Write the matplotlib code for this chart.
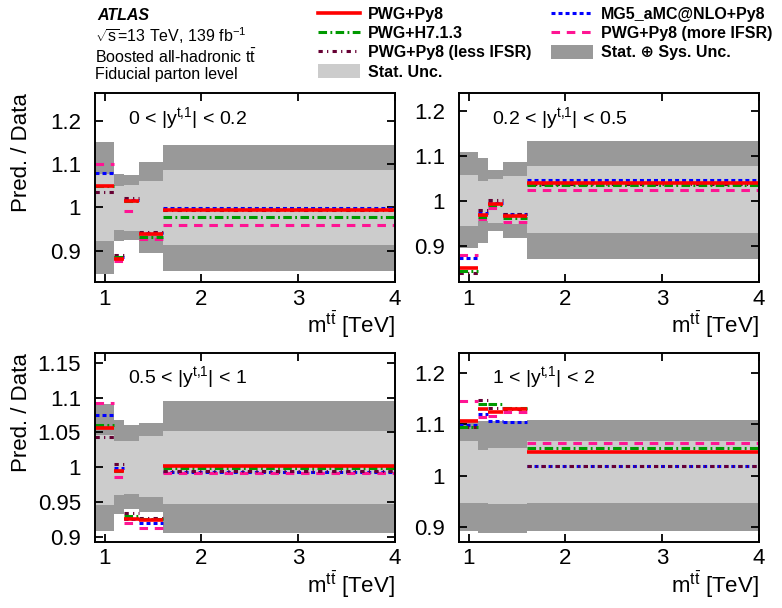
import matplotlib
matplotlib.use("Agg")
import matplotlib.pyplot as plt
from matplotlib.lines import Line2D
from matplotlib.patches import Patch
from matplotlib.ticker import FormatStrFormatter

plt.rcParams['font.family'] = ['Liberation Sans', 'DejaVu Sans']
plt.rcParams['mathtext.fontset'] = 'custom'
plt.rcParams['mathtext.rm'] = 'Liberation Sans'
plt.rcParams['mathtext.it'] = 'Liberation Sans:italic'
plt.rcParams['mathtext.bf'] = 'Liberation Sans:bold'

# m_tt bin edges [TeV]
edges = [0.9, 1.1, 1.2, 1.35, 1.6, 4.0]

panel_labels = [r'0 < |y$^{\rm t{,}1}$| < 0.2', r'0.2 < |y$^{\rm t{,}1}$| < 0.5',
                r'0.5 < |y$^{\rm t{,}1}$| < 1', r'1 < |y$^{\rm t{,}1}$| < 2']

# prediction / data, one list per panel
pwg_py8 = [[1.050, 0.882, 1.014, 0.938, 0.993],
           [0.850, 0.967, 0.993, 0.965, 1.038],
           [1.056, 0.994, 0.925, 0.924, 1.001],
           [1.106, 1.130, 1.125, 1.129, 1.046]]
pwg_h7 = [[1.050, 0.885, 1.016, 0.932, 0.977],
          [0.844, 0.963, 0.990, 0.961, 1.034],
          [1.060, 0.995, 0.930, 0.925, 0.998],
          [1.094, 1.140, 1.140, 1.132, 1.054]]
pwg_less = [[1.035, 0.891, 1.022, 0.943, 0.995],
            [0.839, 0.980, 1.001, 0.971, 1.036],
            [1.043, 1.005, 0.934, 0.927, 0.994],
            [1.095, 1.147, 1.132, 1.130, 1.019]]
mg5 = [[1.079, 0.886, 1.017, 0.940, 0.998],
       [0.873, 0.973, 0.995, 0.971, 1.045],
       [1.075, 0.998, 0.926, 0.919, 0.993],
       [1.098, 1.120, 1.107, 1.105, 1.019]]
pwg_more = [[1.100, 0.877, 0.991, 0.927, 0.960],
            [0.880, 0.958, 0.984, 0.953, 1.024],
            [1.092, 0.986, 0.919, 0.912, 0.991],
            [1.145, 1.115, 1.116, 1.125, 1.063]]

stat_up = [[1.076, 1.050, 1.052, 1.060, 1.087],
           [1.056, 1.044, 1.049, 1.054, 1.076],
           [1.046, 1.038, 1.038, 1.044, 1.052],
           [1.067, 1.050, 1.054, 1.054, 1.067]]
stat_down = [[0.923, 0.948, 0.945, 0.938, 0.913],
             [0.943, 0.954, 0.950, 0.947, 0.928],
             [0.946, 0.960, 0.962, 0.957, 0.947],
             [0.946, 0.947, 0.945, 0.945, 0.946]]
tot_up = [[1.152, 1.077, 1.074, 1.105, 1.145],
          [1.108, 1.095, 1.069, 1.086, 1.132],
          [1.090, 1.067, 1.060, 1.063, 1.095],
          [1.106, 1.107, 1.107, 1.107, 1.108]]
tot_down = [[0.847, 0.923, 0.925, 0.895, 0.853],
            [0.894, 0.906, 0.933, 0.916, 0.870],
            [0.908, 0.933, 0.940, 0.936, 0.905],
            [0.893, 0.888, 0.888, 0.888, 0.892]]

ylims = [(0.828, 1.264), (0.819, 1.239), (0.893, 1.164), (0.872, 1.239)]
yticks = [[0.9, 1.0, 1.1, 1.2], [0.9, 1.0, 1.1, 1.2],
          [0.9, 0.95, 1.0, 1.05, 1.1, 1.15], [0.9, 1.0, 1.1, 1.2]]

DARK = '#999999'
LIGHT = '#cccccc'
styles = {
    'MG5_aMC@NLO+Py8': dict(color='#0000ff', ls=(0, (1.3, 1.0)), lw=2.2),
    'PWG+Py8 (more IFSR)': dict(color='#ff1493', ls=(0, (2.8, 2.2)), lw=2.2),
    'PWG+Py8 (less IFSR)': dict(color='#660033', ls=(0, (1.4, 1.4, 0.4, 1.4)), lw=2.2),
    'PWG+H7.1.3': dict(color='#009900', ls=(0, (2.8, 1.1, 0.6, 1.1)), lw=2.2),
    'PWG+Py8': dict(color='#ff0000', ls='-', lw=2.6),
}
series = {'MG5_aMC@NLO+Py8': mg5, 'PWG+Py8 (more IFSR)': pwg_more,
          'PWG+Py8 (less IFSR)': pwg_less, 'PWG+H7.1.3': pwg_h7, 'PWG+Py8': pwg_py8}

W, H = 782, 608
fig = plt.figure(figsize=(W / 100, H / 100), dpi=100)

# axes boxes in pixels: left, top, right, bottom
boxes = [(95, 93, 395, 282), (459, 93, 759, 282),
         (95, 353, 395, 541.5), (459, 353, 759, 541.5)]

for i, (l, t, r, b) in enumerate(boxes):
    ax = fig.add_axes([l / W, 1 - b / H, (r - l) / W, (b - t) / H])
    ax.stairs(tot_up[i], edges, baseline=tot_down[i], fill=True, color=DARK, lw=0)
    ax.stairs(stat_up[i], edges, baseline=stat_down[i], fill=True, color=LIGHT, lw=0)
    for name, vals in series.items():
        st = styles[name]
        ax.hlines(vals[i], edges[:-1], edges[1:], colors=st['color'],
                  linestyles=[st['ls']], linewidth=st['lw'])
    ax.set_xlim(0.9, 4.0)
    ax.set_ylim(*ylims[i])
    ax.set_xticks([1, 2, 3, 4])
    ax.set_yticks(yticks[i])
    ax.yaxis.set_major_formatter(FormatStrFormatter('%g'))
    ax.tick_params(direction='in', top=True, right=True, length=6, width=1.3,
                   labelsize=16)
    ax.tick_params(axis='y', pad=10)
    ax.tick_params(axis='x', pad=5)
    for sp in ax.spines.values():
        sp.set_linewidth(1.4)
    ax.text(0.11, 0.87, panel_labels[i], transform=ax.transAxes, fontsize=14,
            ha='left', va='center')
    fig.text(r / W, 1 - (b + 52) / H, r'm$^{\rm t\bar{t}}$ [TeV]', fontsize=16,
             ha='right', va='baseline')
    if l < 200:
        fig.text(22 / W, 1 - t / H, 'Pred. / Data', fontsize=16, rotation=90,
                 ha='center', va='top')

# header text
fig.text(97 / W, 1 - 20 / H, 'ATLAS', fontsize=11.5, fontweight='bold',
         fontstyle='italic', va='baseline')
fig.text(95 / W, 1 - 41.5 / H, r'$\sqrt{\rm s}$=13 TeV, 139 fb$^{-1}$',
         fontsize=11.5, va='baseline')
fig.text(95 / W, 1 - 63 / H, r'Boosted all-hadronic t$\bar{\rm t}$',
         fontsize=11.5, va='baseline')
fig.text(95 / W, 1 - 79 / H, 'Fiducial parton level', fontsize=11.5,
         va='baseline')


def line_handle(name):
    st = styles[name]
    return Line2D([], [], color=st['color'], ls=st['ls'], lw=st['lw'], label=name)


col1 = [line_handle('PWG+Py8'), line_handle('PWG+H7.1.3'),
        line_handle('PWG+Py8 (less IFSR)'),
        Patch(facecolor=LIGHT, edgecolor='none', label='Stat. Unc.')]
col2 = [line_handle('MG5_aMC@NLO+Py8'), line_handle('PWG+Py8 (more IFSR)'),
        Patch(facecolor=DARK, edgecolor='none', label='Stat. \u2295 Sys. Unc.')]

leg_kw = dict(loc='upper left', frameon=False, borderpad=0, borderaxespad=0,
              handlelength=2.6, handletextpad=0.55, labelspacing=0.25,
              handleheight=0.9, prop={'weight': 'bold', 'size': 11.5})
fig.legend(handles=col1, bbox_to_anchor=(318 / W, 1 - 7 / H), **leg_kw)
fig.legend(handles=col2, bbox_to_anchor=(551 / W, 1 - 7 / H), **leg_kw)

fig.savefig('out.png', dpi=100)
